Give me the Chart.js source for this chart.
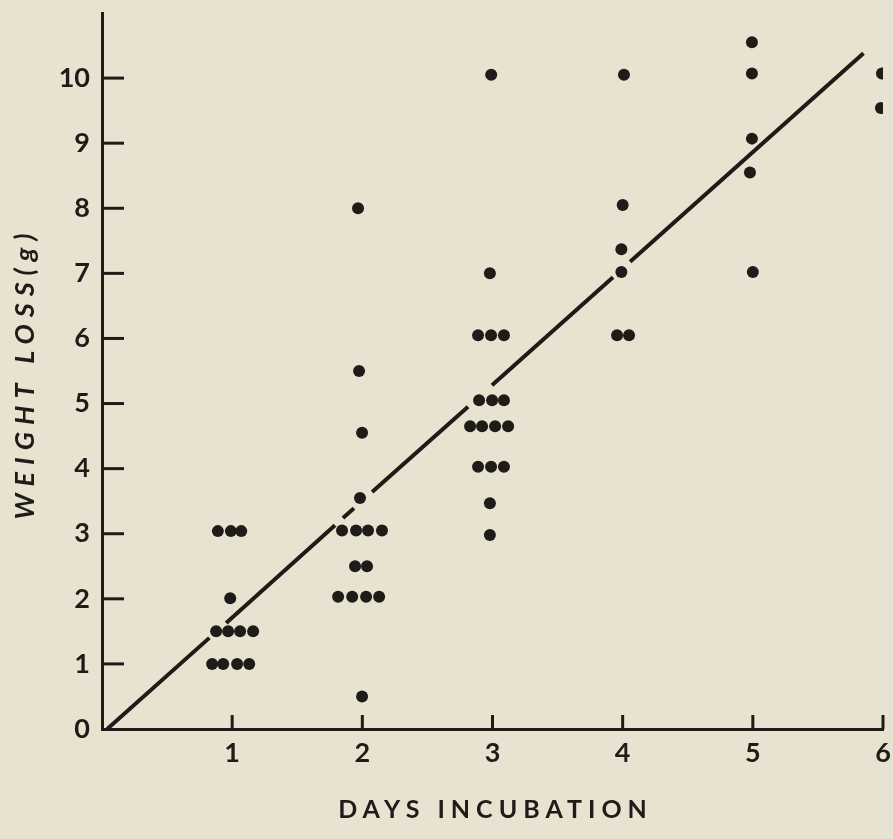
<!DOCTYPE html>
<html>
<head>
<meta charset="utf-8">
<script src="https://cdn.jsdelivr.net/npm/chart.js@4/dist/chart.umd.min.js"></script>
<style>
  html, body { margin: 0; padding: 0; background: #e8e3d0; }
  #wrap { width: 893px; height: 839px; }
</style>
</head>
<body>
<div id="wrap"><canvas id="chart" width="893" height="839"></canvas></div>
<script>
// Axis ticks
const dayTicks = [1, 2, 3, 4, 5, 6];
const weightTicks = [0, 1, 2, 3, 4, 5, 6, 7, 8, 9, 10];

// Individual observations: day of incubation (spread sideways within a day) and weight loss in grams
const obsDay = [
  0.89, 0.99, 1.07, 0.985, 0.877, 0.969, 1.061, 1.161, 0.846, 0.931, 1.038, 1.131,
  1.967, 1.975, 1.998, 1.982, 1.844, 1.952, 2.044, 2.151, 1.944, 2.036, 1.814, 1.922, 2.029, 2.129, 1.998,
  2.99, 2.98, 2.889, 2.989, 3.088, 2.897, 2.997, 3.088, 2.828, 2.920, 3.020, 3.120, 2.889, 2.989, 3.088, 2.98, 2.98,
  4.01, 4.00, 3.99, 3.99, 3.957, 4.049,
  4.993, 4.993, 4.993, 4.978, 5.0,
  5.992, 5.984
];
const obsLoss = [
  3.04, 3.04, 3.04, 2.01, 1.5, 1.5, 1.5, 1.5, 1.0, 1.0, 1.0, 1.0,
  8.0, 5.5, 4.55, 3.55, 3.05, 3.05, 3.05, 3.05, 2.5, 2.5, 2.03, 2.03, 2.03, 2.03, 0.5,
  10.05, 7.0, 6.05, 6.05, 6.05, 5.05, 5.05, 5.05, 4.65, 4.65, 4.65, 4.65, 4.03, 4.03, 4.03, 3.47, 2.98,
  10.05, 8.05, 7.37, 7.02, 6.05, 6.05,
  10.55, 10.07, 9.07, 8.55, 7.02,
  10.07, 9.54
];

// Fitted line, broken where it passes through the dots (null = break)
const fitDay  = [0.04, 0.825, 0.89, 0.954, 1.79, 1.82, 1.851, 1.936, 2.0, 2.075, 2.812, 2.9, 2.996, 3.926, 4.0, 4.057, 5.85];
const fitLoss = [0, 1.40, null, 1.63, 3.13, null, 3.24, 3.39, null, 3.64, 4.95, null, 5.28, 6.94, null, 7.18, 10.38];

const INK = '#1f1b19';
const BG = '#e8e3d0';
const FONT = 'Lato, "Noto Sans", sans-serif';

const paper = {
  id: 'paper',
  beforeDraw(chart) {
    const { ctx, width, height } = chart;
    ctx.save();
    ctx.fillStyle = BG;
    ctx.fillRect(0, 0, width, height);
    ctx.restore();
  }
};

// Inward tick marks and lettered axis titles
const axisDecor = {
  id: 'axisDecor',
  afterDraw(chart) {
    const { ctx, chartArea } = chart;
    const xs = chart.scales.x, ys = chart.scales.y;
    ctx.save();
    ctx.strokeStyle = INK;
    ctx.lineWidth = 3;
    ctx.lineCap = 'butt';
    weightTicks.forEach(v => {
      if (v === 0) return;
      const py = ys.getPixelForValue(v);
      ctx.beginPath();
      ctx.moveTo(chartArea.left, py);
      ctx.lineTo(chartArea.left + 22, py);
      ctx.stroke();
    });
    dayTicks.forEach(v => {
      const px = xs.getPixelForValue(v);
      ctx.beginPath();
      ctx.moveTo(px, chartArea.bottom);
      ctx.lineTo(px, chartArea.bottom - 14);
      ctx.stroke();
    });

    ctx.fillStyle = INK;
    ctx.textAlign = 'center';
    ctx.textBaseline = 'middle';

    // x title
    ctx.font = 'bold 25px ' + FONT;
    ctx.letterSpacing = '6px';
    ctx.fillText('DAYS INCUBATION', (chartArea.left + chartArea.right) / 2 + 3, 810);

    // y title
    ctx.translate(25, 376);
    ctx.rotate(-Math.PI / 2);
    ctx.font = 'italic bold 27px ' + FONT;
    ctx.letterSpacing = '7px';
    ctx.fillText('WEIGHT LOSS(g)', 3, 0);
    ctx.restore();
  }
};

new Chart(document.getElementById('chart'), {
  data: {
    datasets: [
      {
        type: 'line',
        data: fitDay.map((d, i) => ({ x: d, y: fitLoss[i] })),
        borderColor: INK,
        borderWidth: 4,
        pointRadius: 0,
        spanGaps: false,
        tension: 0,
        fill: false
      },
      {
        type: 'scatter',
        data: obsDay.map((d, i) => ({ x: d, y: obsLoss[i] })),
        backgroundColor: INK,
        borderWidth: 0,
        pointRadius: 6
      }
    ]
  },
  options: {
    responsive: false,
    animation: false,
    layout: { padding: { top: 13, right: 10, left: 0, bottom: 0 } },
    plugins: { legend: { display: false }, tooltip: { enabled: false } },
    scales: {
      x: {
        type: 'linear',
        min: 0,
        max: 6,
        afterBuildTicks: s => { s.ticks = dayTicks.map(v => ({ value: v })); },
        afterFit: s => { s.height = 110; s.paddingLeft = 0; s.paddingRight = 0; },
        grid: { display: true, drawOnChartArea: false, drawTicks: false },
        border: { display: true, color: INK, width: 3 },
        ticks: {
          color: INK,
          padding: 8,
          maxRotation: 0,
          font: { family: FONT, size: 27, weight: 'bold' }
        }
      },
      y: {
        type: 'linear',
        min: 0,
        max: 11,
        afterBuildTicks: s => { s.ticks = weightTicks.map(v => ({ value: v })); },
        afterFit: s => { s.width = 102; s.paddingTop = 0; s.paddingBottom = 0; },
        grid: { display: true, drawOnChartArea: false, drawTicks: false },
        border: { display: true, color: INK, width: 3 },
        ticks: {
          color: INK,
          padding: 12,
          font: { family: FONT, size: 27, weight: 'bold' }
        }
      }
    }
  },
  plugins: [paper, axisDecor]
});
</script>
</body>
</html>
